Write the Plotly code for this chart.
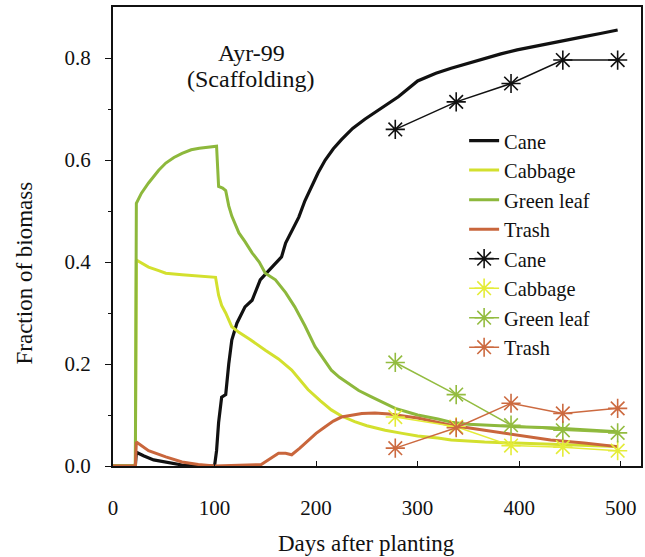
import plotly.graph_objects as go

# ---- simulated fractions (daily model output) ----
cane_days = [0, 22, 23, 30, 40, 52, 60, 68, 80, 90, 100, 102, 104, 107, 111, 114, 117, 122, 130,
             137, 145, 152, 160, 166, 170, 176, 183, 189, 195, 202, 209, 217, 225, 236, 248, 258,
             268, 281, 300, 318, 333, 350, 366, 382, 398, 415, 431, 448, 464, 480, 497]
cane_sim = [0, 0, 0.027, 0.02, 0.012, 0.008, 0.004, 0.002, 0, 0, 0, 0.03, 0.085, 0.135, 0.14,
            0.20, 0.247, 0.28, 0.312, 0.325, 0.365, 0.38, 0.398, 0.41, 0.437, 0.46, 0.488, 0.52,
            0.547, 0.575, 0.60, 0.622, 0.64, 0.662, 0.68, 0.693, 0.706, 0.724, 0.755, 0.77, 0.78,
            0.79, 0.80, 0.808, 0.816, 0.823, 0.83, 0.836, 0.842, 0.848, 0.855]

cabbage_days = [0, 22, 23, 30, 35, 45, 52, 68, 85, 101, 104, 107, 111, 117, 124, 135, 150, 163,
                176, 192, 204, 215, 225, 238, 250, 268, 285, 300, 320, 333, 366, 398, 431, 464, 497]
cabbage_sim = [0, 0, 0.404, 0.395, 0.39, 0.383, 0.378, 0.375, 0.372, 0.37, 0.335, 0.315, 0.3,
               0.273, 0.262, 0.248, 0.227, 0.21, 0.188, 0.15, 0.128, 0.11, 0.098, 0.087, 0.079,
               0.07, 0.064, 0.059, 0.055, 0.051, 0.047, 0.045, 0.042, 0.04, 0.038]

leaf_days = [0, 22, 23, 28, 35, 45, 52, 60, 68, 77, 85, 95, 102, 104, 108, 111, 114, 117, 124, 130,
             137, 144, 150, 160, 170, 179, 189, 199, 207, 215, 223, 232, 242, 254, 266, 278, 290,
             300, 320, 333, 350, 366, 398, 431, 464, 497]
leaf_sim = [0, 0, 0.515, 0.535, 0.555, 0.58, 0.594, 0.605, 0.613, 0.62, 0.623, 0.626, 0.627, 0.548,
            0.545, 0.54, 0.51, 0.49, 0.457, 0.44, 0.418, 0.40, 0.378, 0.365, 0.34, 0.312, 0.275,
            0.234, 0.21, 0.188, 0.174, 0.162, 0.148, 0.136, 0.124, 0.113, 0.106, 0.10, 0.092,
            0.086, 0.082, 0.08, 0.077, 0.075, 0.071, 0.067]

trash_days = [0, 22, 23, 35, 52, 68, 84, 100, 146, 155, 163, 170, 176, 184, 192, 200, 209, 217,
              225, 235, 245, 258, 272, 300, 333, 366, 398, 431, 464, 497]
trash_sim = [0, 0, 0.047, 0.03, 0.018, 0.008, 0.003, 0, 0.003, 0.014, 0.025, 0.025, 0.022, 0.035,
             0.05, 0.064, 0.077, 0.088, 0.096, 0.1, 0.103, 0.104, 0.102, 0.094, 0.08, 0.07, 0.06,
             0.051, 0.045, 0.038]

# ---- observed fractions (harvest samplings) ----
obs_days = [278, 338, 392, 443, 497]
cane_obs = [0.66, 0.714, 0.75, 0.796, 0.796]
cabbage_obs = [0.096, 0.077, 0.04, 0.037, 0.03]
leaf_obs = [0.203, 0.14, 0.08, 0.07, 0.065]
trash_obs = [0.035, 0.075, 0.123, 0.103, 0.113]

names = ["Cane", "Cabbage", "Green leaf", "Trash"]
sim_colors = ["#111111", "#d3e02e", "#8db83c", "#c9663c"]
obs_colors = ["#111111", "#e4ec38", "#93bc40", "#cc6a40"]

SERIF = "Liberation Serif, Times New Roman, serif"

fig = go.Figure()

sim_sets = [(cane_days, cane_sim), (cabbage_days, cabbage_sim),
            (leaf_days, leaf_sim), (trash_days, trash_sim)]
for name, (d, v), c in zip(names, sim_sets, sim_colors):
    fig.add_trace(go.Scatter(x=d, y=v, mode="lines", name=name,
                             line=dict(color=c, width=3.2 if name == "Cane" else 3)))

obs_sets = [cane_obs, cabbage_obs, leaf_obs, trash_obs]
for name, v, c in zip(names, obs_sets, obs_colors):
    fig.add_trace(go.Scatter(x=obs_days, y=v, mode="lines+markers", name=name,
                             line=dict(color=c, width=1.5),
                             marker=dict(symbol="asterisk-open", size=16,
                                         color=c, line=dict(color=c, width=1.6))))

fig.update_layout(
    width=645, height=557,
    margin=dict(l=113, r=2, t=7, b=91),
    paper_bgcolor="white", plot_bgcolor="white",
    font=dict(family=SERIF, size=20, color="#111111"),
    showlegend=True,
    legend=dict(x=0.665, xanchor="left", y=0.752, yanchor="top",
                bgcolor="rgba(255,255,255,0)", borderwidth=0,
                font=dict(family=SERIF, size=20.4, color="#111111"),
                tracegroupgap=0),
    xaxis=dict(range=[0, 520], tickvals=[0, 100, 200, 300, 400, 500],
               showgrid=False, zeroline=False,
               showline=True, linecolor="#111111", linewidth=2, mirror=True,
               ticks="inside", ticklen=5, tickcolor="#111111", tickwidth=1,
               ticklabelstandoff=22,
               tickfont=dict(family=SERIF, size=21)),
    yaxis=dict(range=[0, 0.9], tickvals=[0, 0.2, 0.4, 0.6, 0.8],
               ticktext=["0.0", "0.2", "0.4", "0.6", "0.8"],
               showgrid=False, zeroline=False,
               showline=True, linecolor="#111111", linewidth=2, mirror=True,
               ticks="outside", ticklen=6, tickcolor="#111111", tickwidth=1,
               ticklabelstandoff=10,
               minor=dict(tickvals=[0.1, 0.3, 0.5, 0.7], ticks="outside",
                          ticklen=3, tickcolor="#111111", tickwidth=1),
               tickfont=dict(family=SERIF, size=21)),
)

# axis titles and site label
fig.add_annotation(text="Days after planting", xref="paper", yref="paper",
                   x=0.48, y=-0.168, xanchor="center", yanchor="middle",
                   showarrow=False, font=dict(family=SERIF, size=23))
fig.add_annotation(text="Fraction of biomass", xref="paper", yref="paper",
                   x=-0.168, y=0.42, xanchor="center", yanchor="middle",
                   textangle=-90, showarrow=False, font=dict(family=SERIF, size=23))
fig.add_annotation(text="Ayr-99", xref="paper", yref="paper",
                   x=0.262, y=0.9, xanchor="center", yanchor="middle",
                   showarrow=False, font=dict(family=SERIF, size=24))
fig.add_annotation(text="(Scaffolding)", xref="paper", yref="paper",
                   x=0.262, y=0.843, xanchor="center", yanchor="middle",
                   showarrow=False, font=dict(family=SERIF, size=24))

fig.write_html("out.html")
